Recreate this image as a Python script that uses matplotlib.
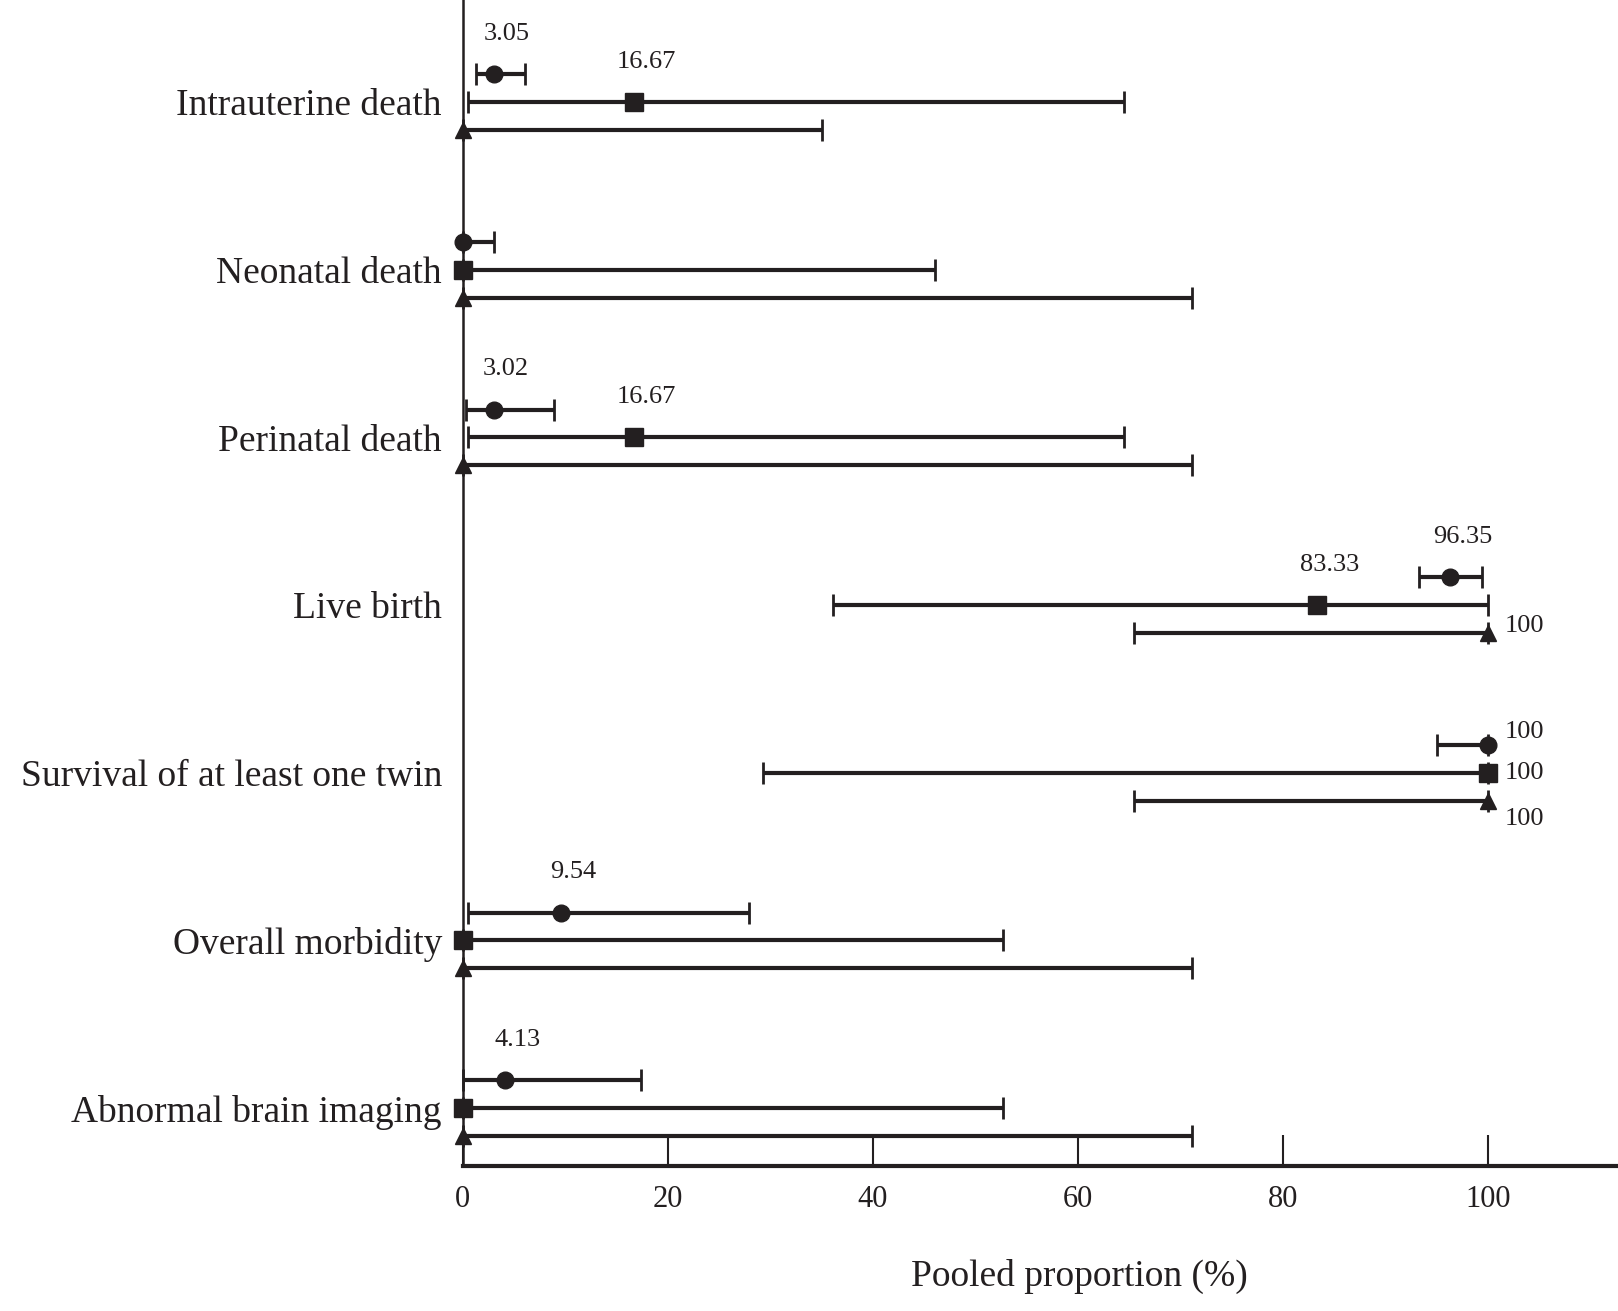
import matplotlib
matplotlib.use("Agg")
import matplotlib.pyplot as plt

plt.rcParams['font.family'] = ['Liberation Serif', 'DejaVu Serif']

# outcomes, top to bottom
outcomes = ["Intrauterine death", "Neonatal death", "Perinatal death", "Live birth",
            "Survival of at least one twin", "Overall morbidity", "Abnormal brain imaging"]

# circle series
circ_est = [3.05, 0, 3.02, 96.35, 100, 9.54, 4.13]
circ_lo = [1.3, 0, 0.3, 93.3, 95.0, 0.5, 0]
circ_hi = [6.1, 3.0, 8.9, 99.4, 100, 27.9, 17.4]

# square series
sq_est = [16.67, 0, 16.67, 83.33, 100, 0, 0]
sq_lo = [0.5, 0, 0.5, 36.1, 29.3, 0, 0]
sq_hi = [64.5, 46.1, 64.5, 100, 100, 52.7, 52.7]

# triangle series
tri_est = [0, 0, 0, 100, 100, 0, 0]
tri_lo = [0, 0, 0, 65.5, 65.5, 0, 0]
tri_hi = [35.0, 71.1, 71.1, 100, 100, 71.1, 71.1]

xticks = [0, 20, 40, 60, 80, 100]

ink = '#231f20'

fig = plt.figure(figsize=(16.18, 13.11), dpi=100)
ax = fig.add_axes([0.286, 0.1106, 0.714, 0.8894])

series = [
    (circ_est, circ_lo, circ_hi, 'o', 12, -0.166),
    (sq_est, sq_lo, sq_hi, 's', 13, 0.0),
    (tri_est, tri_lo, tri_hi, '^', 11, 0.166),
]

for s_idx, (est, lo, hi, mk, ms, dy) in enumerate(series):
    ys = [i + dy for i in range(len(outcomes))]
    xerr = [[e - l for e, l in zip(est, lo)], [h - e for e, h in zip(est, hi)]]
    ax.errorbar(est, ys, xerr=xerr, fmt=mk, color=ink, ms=ms, lw=3,
                capsize=8, capthick=2, clip_on=False, zorder=3)
    for i, (e, y) in enumerate(zip(est, ys)):
        if e == 0:
            continue
        txt = f"{e:g}"
        if e >= 100:
            # labels at the right of the marker
            vshift = {0: 9, 1: 0, 2: -13}[s_idx]
            if i == 3:
                vshift = 5
            ax.annotate(txt, (e, y), xytext=(12, vshift), textcoords='offset points',
                        ha='left', va='center', fontsize=19, color=ink)
        else:
            ax.annotate(txt, (e, y), xytext=(9, 29), textcoords='offset points',
                        ha='center', va='center', fontsize=19, color=ink)

ax.set_xlim(0, 112.7)
ax.set_ylim(len(outcomes) - 1 + 0.345, -0.609)

ax.set_yticks(range(len(outcomes)))
ax.set_yticklabels(outcomes, fontsize=27, color=ink)
ax.tick_params(axis='y', length=0, pad=15)

ax.set_xticks(xticks)
ax.set_xticklabels([str(t) for t in xticks], fontsize=22, color=ink)
ax.tick_params(axis='x', direction='in', length=22, width=1.5, pad=14, colors=ink)

ax.spines['top'].set_visible(False)
ax.spines['right'].set_visible(False)
ax.spines['bottom'].set_linewidth(3)
ax.spines['left'].set_linewidth(1.8)
ax.spines['bottom'].set_color(ink)
ax.spines['left'].set_color(ink)

ax.set_xlabel("Pooled proportion (%)", fontsize=27, color=ink)
ax.xaxis.set_label_coords(0.534, -0.08)

fig.savefig("out.png", dpi=100)
